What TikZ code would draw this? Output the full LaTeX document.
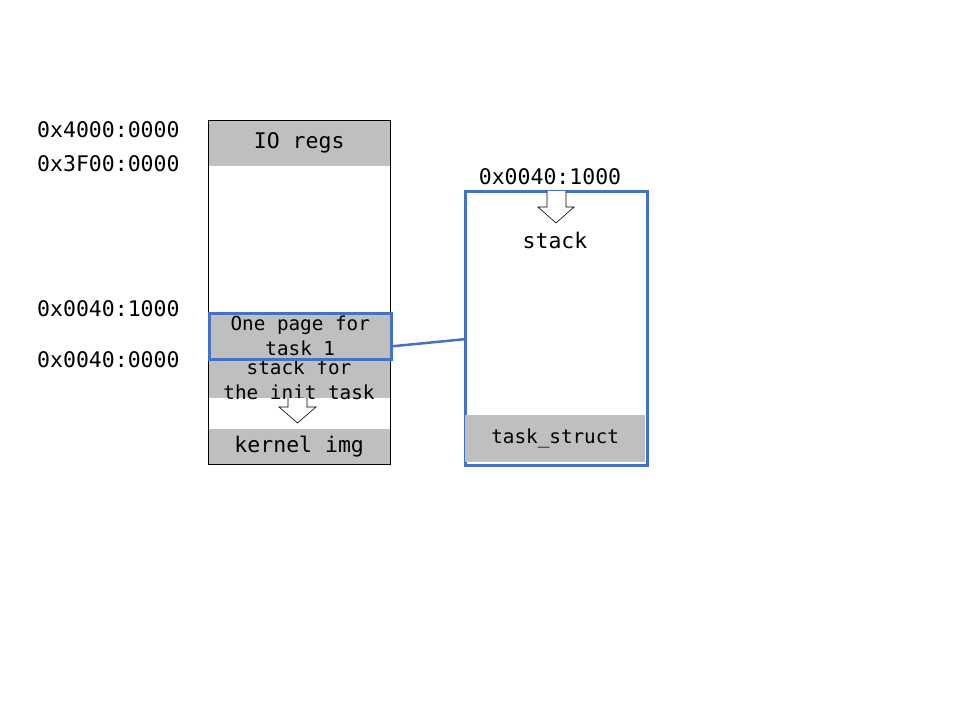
\documentclass[tikz,border=0pt]{standalone}
\usepackage{fontspec}
\setmonofont{DejaVu Sans Mono}
\usetikzlibrary{positioning}
\definecolor{linkblue}{HTML}{4472C4}
\definecolor{cellgray}{HTML}{BFBFBF}
\tikzset{
  bigtt/.style={font=\fontsize{21.5}{25}\selectfont\ttfamily},
  smalltt/.style={font=\fontsize{19.3}{25}\selectfont\ttfamily},
  cell/.style={fill=cellgray,minimum width=182pt,inner sep=0pt,anchor=north west,align=center},
  addr/.style={bigtt,inner sep=0pt,anchor=west},
  blockarrow/.style={draw,fill=white,line width=0.6pt},
}
\begin{document}
\begin{tikzpicture}[x=1pt,y=-1pt]
    \useasboundingbox (0,0) rectangle (960,720);
    %% Memory map
    \node[cell,bigtt,minimum height=46pt] (io) at (208,120) {IO regs};
    \node[cell,minimum height=40pt] (init) at (208,358) {};
    \node[smalltt,align=center,inner sep=0pt] (initlbl) at (299,380) {stack for\\the init task};
    \node[cell,bigtt,minimum height=35pt] (kernel) at (208,429) {kernel img};
    \node[draw,line width=0.8pt,minimum width=182pt,minimum height=344pt,inner sep=0pt,anchor=north west] (mem) at (208,120) {};
    \node[cell,smalltt,minimum width=182pt,minimum height=46pt,draw=linkblue,line width=2.5pt] (page) at (208,312) {One page for\\task 1};
    \draw[blockarrow] (288,398) -- (288,407) -- (279,407) -- (297.5,423) -- (316,407) -- (307,407) -- (307,398);
    %% Addresses
    \node[addr] (a4000) at (37,130) {0x4000:0000};
    \node[addr] (a3f00) at (37,164) {0x3F00:0000};
    \node[addr] (a1000) at (37,309) {0x0040:1000};
    \node[addr] (a0000) at (37,360) {0x0040:0000};
    %% Task page
    \node[draw=linkblue,line width=2.5pt,minimum width=182pt,minimum height=274pt,inner sep=0pt,anchor=north west] (task) at (464,190) {};
    \node[cell,smalltt,minimum width=180pt,minimum height=47pt] (tstruct) at (465,415) {task\_struct};
    \node[bigtt,inner sep=0pt] (top) at (550,177) {0x0040:1000};
    \node[bigtt,inner sep=0pt] (stack) at (555,240) {stack};
    \draw[blockarrow] (547,191) -- (547,207) -- (538,207) -- (556,223) -- (574,207) -- (566,207) -- (566,191);
    %% Link
    \draw[linkblue,line width=2.5pt] ([yshift=-10pt]page.east) -- ([yshift=-11pt]task.west);
\end{tikzpicture}
\end{document}
